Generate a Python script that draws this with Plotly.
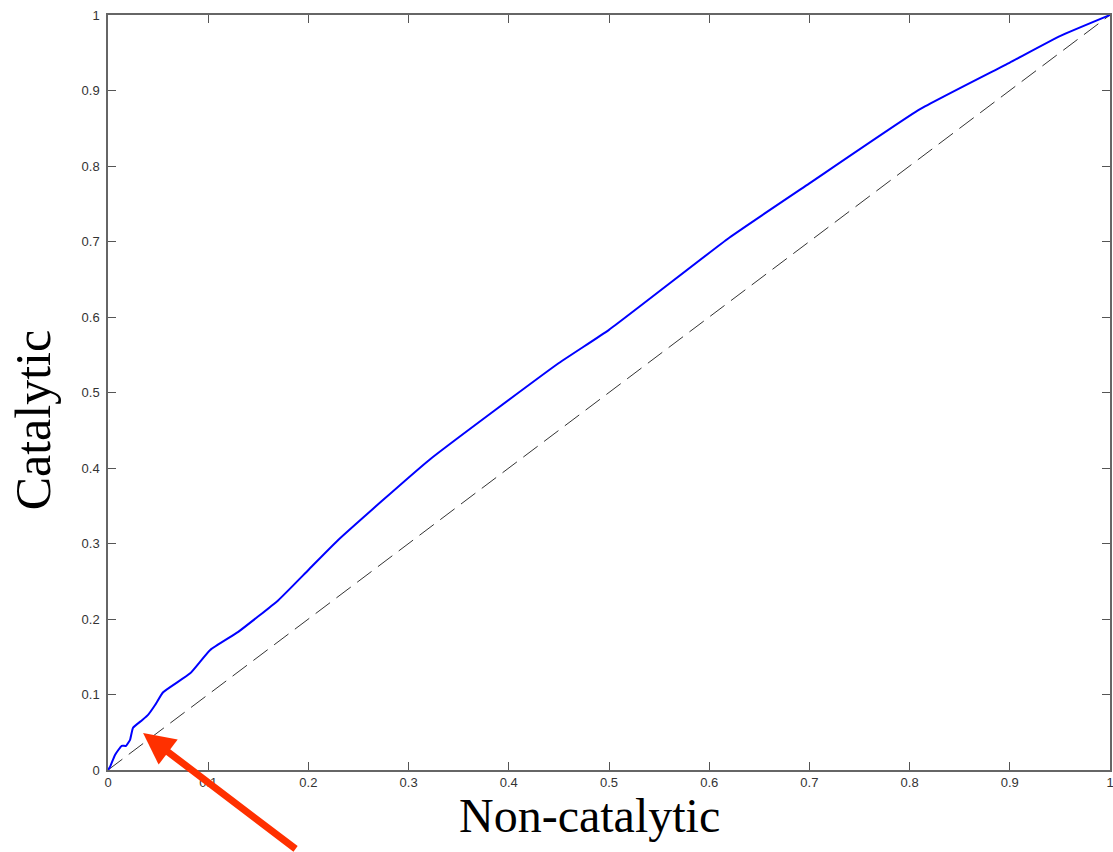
import plotly.graph_objects as go

# ROC-like curve values
curve_x = [0.0, 0.002, 0.007, 0.0137, 0.018, 0.022, 0.025, 0.034, 0.04, 0.047, 0.055,
           0.082, 0.102, 0.13, 0.17, 0.2, 0.23, 0.32, 0.45, 0.5, 0.62, 0.7, 0.81, 0.9, 0.95, 1.0]
curve_y = [0.0, 0.004, 0.02, 0.032, 0.032, 0.04, 0.056, 0.066, 0.073, 0.086, 0.103,
           0.128, 0.159, 0.183, 0.225, 0.265, 0.305, 0.41, 0.539, 0.583, 0.705, 0.777, 0.875, 0.937, 0.972, 1.0]

diag_x = [0, 1]
diag_y = [0, 1]

tick_vals = [0, 0.1, 0.2, 0.3, 0.4, 0.5, 0.6, 0.7, 0.8, 0.9, 1]
tick_text = ["0", "0.1", "0.2", "0.3", "0.4", "0.5", "0.6", "0.7", "0.8", "0.9", "1"]

x_title = "Non-catalytic"
y_title = "Catalytic"

arrow_point = (0.035, 0.049)

fig = go.Figure()
fig.add_trace(go.Scatter(x=diag_x, y=diag_y, mode="lines",
                         line=dict(color="#333333", width=1, dash="18px,8px"),
                         hoverinfo="skip", showlegend=False))
fig.add_trace(go.Scatter(x=curve_x, y=curve_y, mode="lines",
                         line=dict(color="#0000ff", width=2, shape="spline", smoothing=0.4),
                         showlegend=False))

axis_common = dict(
    range=[0, 1], tickvals=tick_vals, ticktext=tick_text,
    ticks="inside", ticklen=8, tickcolor="#555555", tickwidth=1,
    showline=True, linecolor="#666666", linewidth=1.5, mirror="ticks",
    showgrid=False, zeroline=False, automargin=False,
    ticklabeloverflow="allow",
    tickfont=dict(family="Arial, Liberation Sans, sans-serif", size=13, color="#333333"),
)

fig.update_xaxes(**axis_common)
fig.update_yaxes(**axis_common, ticklabelstandoff=4)

title_font = dict(family="Liberation Serif, Times New Roman, serif", size=48, color="black")
fig.add_annotation(text=x_title, xref="paper", yref="paper", x=0.481, y=-0.06,
                   xanchor="center", yanchor="middle", showarrow=False, font=title_font)
fig.add_annotation(text=y_title, xref="paper", yref="paper", x=-0.0745, y=0.4636,
                   xanchor="center", yanchor="middle", showarrow=False, textangle=-90,
                   font=dict(title_font, size=50))

fig.add_annotation(x=arrow_point[0], y=arrow_point[1], xref="x", yref="y",
                   ax=154, ay=117, axref="pixel", ayref="pixel",
                   showarrow=True, arrowhead=2, arrowsize=0.9, arrowwidth=7,
                   arrowcolor="#ff3000", text="", standoff=0)

fig.update_layout(
    width=1113, height=852,
    margin=dict(l=108, r=3, t=15, b=82),
    plot_bgcolor="white", paper_bgcolor="white",
    hovermode=False,
)

fig.write_html("out.html", config={"displayModeBar": False},
               post_script="document.body.style.margin='0';document.body.style.overflow='hidden';")
